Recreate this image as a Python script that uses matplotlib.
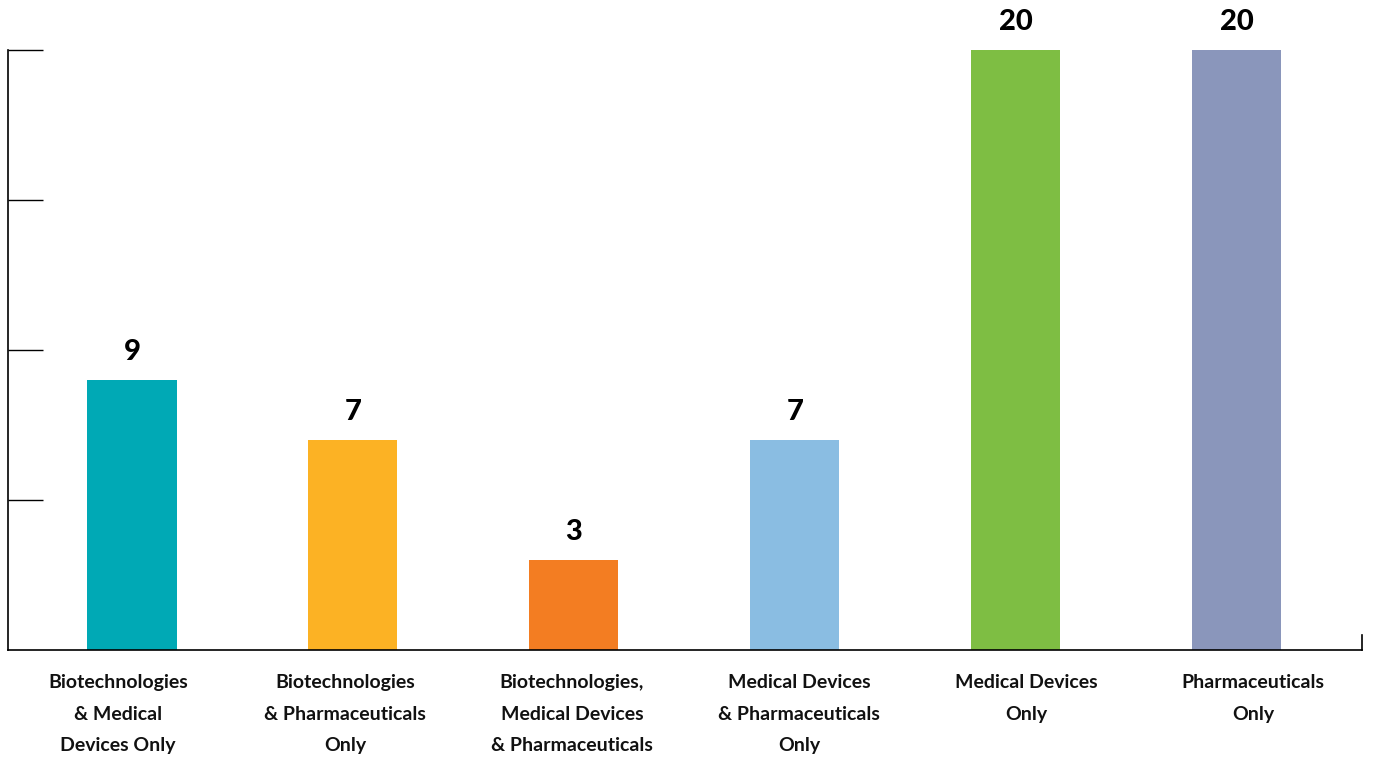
import matplotlib
matplotlib.use('Agg')
import matplotlib.pyplot as plt

# --- data ---
categories = [
    'Biotechnologies\n& Medical\nDevices Only',
    'Biotechnologies\n& Pharmaceuticals\nOnly',
    'Biotechnologies,\nMedical Devices\n& Pharmaceuticals',
    'Medical Devices\n& Pharmaceuticals\nOnly',
    'Medical Devices\nOnly',
    'Pharmaceuticals\nOnly',
]
counts = [9, 7, 3, 7, 20, 20]
colors = ['#00A9B5', '#FCB224', '#F37D22', '#8ABDE2', '#7EBE43', '#8A96BB']

plt.rcParams['font.family'] = ['Lato', 'DejaVu Sans']

fig = plt.figure(figsize=(13.74, 7.59), dpi=100)
ax = fig.add_axes([8 / 1374, 109 / 759, 1354 / 1374, 600 / 759])

x = list(range(len(categories)))
bars = ax.bar(x, counts, width=0.403, color=colors)

# value labels above bars
for b, v in zip(bars, counts):
    ax.text(b.get_x() + b.get_width() / 2, v + 0.5, str(v),
            ha='center', va='bottom', fontsize=21, fontweight='black',
            color='black')

ax.set_xlim(-0.561, 5.566)
ax.set_ylim(0, 20)

# category labels sit on a slightly wider, evenly spread grid than the bars
for xi, lbl in zip(x, categories):
    ax.text(xi * 1.027 - 0.063, -0.8, lbl, ha='center', va='top', fontsize=14,
            fontweight='bold', linespacing=2.05, color='#111111')

ax.set_xticks([])
ax.set_yticks([5, 10, 15, 20])
ax.set_yticklabels([])
ax.tick_params(axis='y', direction='in', length=25, width=1, color='black')

ax.spines['top'].set_visible(False)
ax.spines['right'].set_bounds(0, 0.5)
for s in ['left', 'bottom', 'right']:
    ax.spines[s].set_linewidth(1.2)
    ax.spines[s].set_color('black')

fig.savefig('out.png', dpi=100)
